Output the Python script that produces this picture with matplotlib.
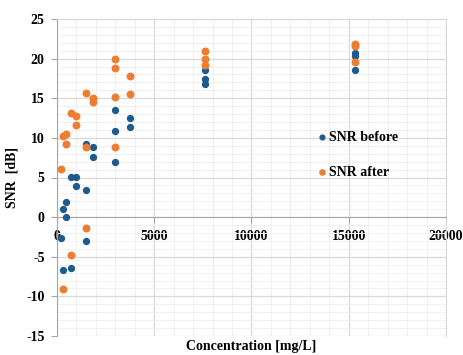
import numpy as np
from matplotlib import pyplot as plt
from matplotlib.ticker import MultipleLocator

plt.rcParams['font.family'] = ['Liberation Serif', 'DejaVu Serif']
plt.rcParams['font.weight'] = 'bold'
plt.rcParams['axes.unicode_minus'] = False

# concentration [mg/L] for each measurement
conc_before = [190, 325, 325, 448, 448, 705, 705, 962, 962, 1478, 1478, 1478,
               1873, 1873, 2990, 2990, 2990, 3763, 3763,
               7613, 7613, 7613, 15300, 15300, 15300]
snr_before = [-2.65, 0.97, -6.65, 1.9, 0.0, 5.1, -6.43, 5.1, 3.95, 9.2, 3.45, -3.0,
              8.87, 7.6, 13.55, 10.85, 6.9, 12.5, 11.35,
              18.6, 17.4, 16.85, 20.65, 20.35, 18.6]

conc_after = [190, 325, 325, 448, 448, 705, 705, 962, 962, 1478, 1478, 1478,
              1873, 1873, 2990, 2990, 2990, 2990, 3763, 3763,
              7613, 7613, 7613, 15300, 15300, 15300]
snr_after = [6.1, 10.2, -9.13, 10.5, 9.25, 13.1, -4.84, 12.8, 11.6, 15.7, 8.87, -1.35,
             15.05, 14.5, 19.9, 18.8, 15.2, 8.83, 17.8, 15.5,
             20.9, 20.0, 19.2, 21.9, 21.6, 19.6]

blue = '#1f5a8c'
orange = '#ee7d31'
grid_major = '#d9d9d9'
grid_minor = '#f0f0f0'
axis_grey = '#a6a6a6'

fig = plt.figure(figsize=(4.63, 3.55), dpi=100)
ax = fig.add_axes([57 / 463, 1 - 336 / 355, 389 / 463, 317 / 355])

ax.scatter(conc_before, snr_before, s=18, color=blue, label='SNR before', zorder=3)
ax.scatter(conc_after, snr_after, s=22, color=orange, label='SNR after', zorder=3)

ax.set_xlim(0, 20000)
ax.set_ylim(-15, 25)
ax.xaxis.set_major_locator(MultipleLocator(5000))
ax.xaxis.set_minor_locator(MultipleLocator(1000))
ax.yaxis.set_major_locator(MultipleLocator(5))
ax.yaxis.set_minor_locator(MultipleLocator(1))

ax.grid(which='major', color=grid_major, linewidth=0.9)
ax.grid(which='minor', color=grid_minor, linewidth=0.7)
ax.set_axisbelow(True)

# x axis runs through zero
ax.spines['bottom'].set_position(('data', 0))
ax.spines['bottom'].set_color(axis_grey)
ax.spines['left'].set_color(axis_grey)
ax.spines['top'].set_color(grid_major)
ax.spines['right'].set_color(grid_major)
ax.tick_params(which='major', length=4, color=axis_grey, labelsize=10)
ax.tick_params(axis='x', pad=5)
ax.tick_params(axis='y', pad=5)
ax.tick_params(which='minor', length=0)

ax.set_xlabel('Concentration [mg/L]', fontsize=10, fontweight='bold')
ax.xaxis.set_label_coords(0.5, -0.012)
ax.set_ylabel('SNR  [dB]', fontsize=10, fontweight='bold')
ax.yaxis.set_label_coords(-0.10, 0.5)

leg = ax.legend(loc='center left', bbox_to_anchor=(0.66, 0.571), frameon=False,
                fontsize=10, handlelength=0.4, handletextpad=0.3, labelspacing=1.6,
                markerscale=0.8, borderaxespad=0)

fig.savefig('out.png', dpi=100)
